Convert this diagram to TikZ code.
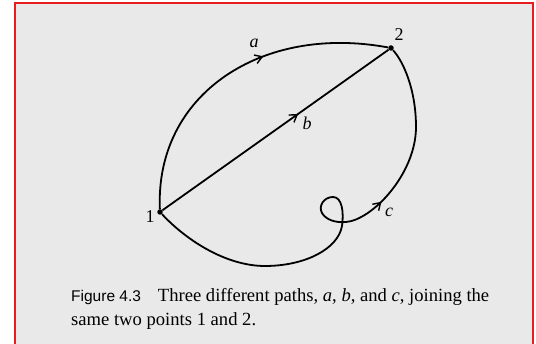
\documentclass[tikz,border=0pt]{standalone}
\usepackage{fontspec}
\setmainfont{Liberation Serif}
\newfontfamily\figsans{Liberation Sans}
\usetikzlibrary{arrows.meta,decorations.markings}
\definecolor{pagegray}{RGB}{233,233,233}
\definecolor{framered}{RGB}{232,30,30}

\begin{document}
\begin{tikzpicture}[x=1pt, y=1pt,
    dot/.style={circle, fill, inner sep=0pt, minimum size=5.5pt},
    lbl/.style={font=\fontsize{18}{20}\selectfont, inner sep=0pt},
    curve/.style={line width=1.8pt},
    midarrow/.style={postaction={decorate}, decoration={markings,
        mark=at position #1 with {\arrow{Straight Barb[length=7pt,width=9pt,line width=1.4pt]}}}}
]
\useasboundingbox (0,0) rectangle (536,344);
\fill[white] (0,0) rectangle (536,344);
\fill[pagegray] (15,0) rectangle (533,341);
\draw[framered, line width=2pt] (15,-2) -- (15,341) -- (533,341) -- (533,-2);

% end points
\node[dot] (p1) at (160,132) {};
\node[dot] (p2) at (391,296) {};
\node[lbl] (n1) at (150,127) {1};
\node[lbl] (n2) at (399,309) {2};

% the three paths
\draw[curve, midarrow=0.61] (p1) .. controls (155,250) and (262,320) .. (p2);
\draw[curve, midarrow=0.6] (p1) -- (p2);
\coordinate (cross) at (346,122);
\draw[curve] (p1) .. controls (185,105) and (225,78) .. (265,78)
    .. controls (305,78) and (338,95) .. (342,118)
    .. controls (344,132) and (342,147) .. (333,147)
    .. controls (324,147) and (318,138) .. (322,131)
    .. controls (326,124) and (336,121) .. (cross);
\draw[curve, midarrow=0.2] (cross) .. controls (372,124) and (416,170) .. (416,217)
    .. controls (416,255) and (403,283) .. (p2);

\node[lbl] (la) at (254,301) {\textit{a}};
\node[lbl] (lb) at (307,221) {\textit{b}};
\node[lbl] (lc) at (389,132) {\textit{c}};

% caption
\node[anchor=base west, align=left, inner sep=0pt, font=\fontsize{18.6}{24}\selectfont] (cap) at (71,18)
    {{\figsans\fontsize{15.5}{24}\selectfont Figure 4.3}\hspace{17pt}Three different paths, \textit{a}, \textit{b}, and \textit{c}, joining the\\
     same two points 1 and 2.};
\end{tikzpicture}
\end{document}
